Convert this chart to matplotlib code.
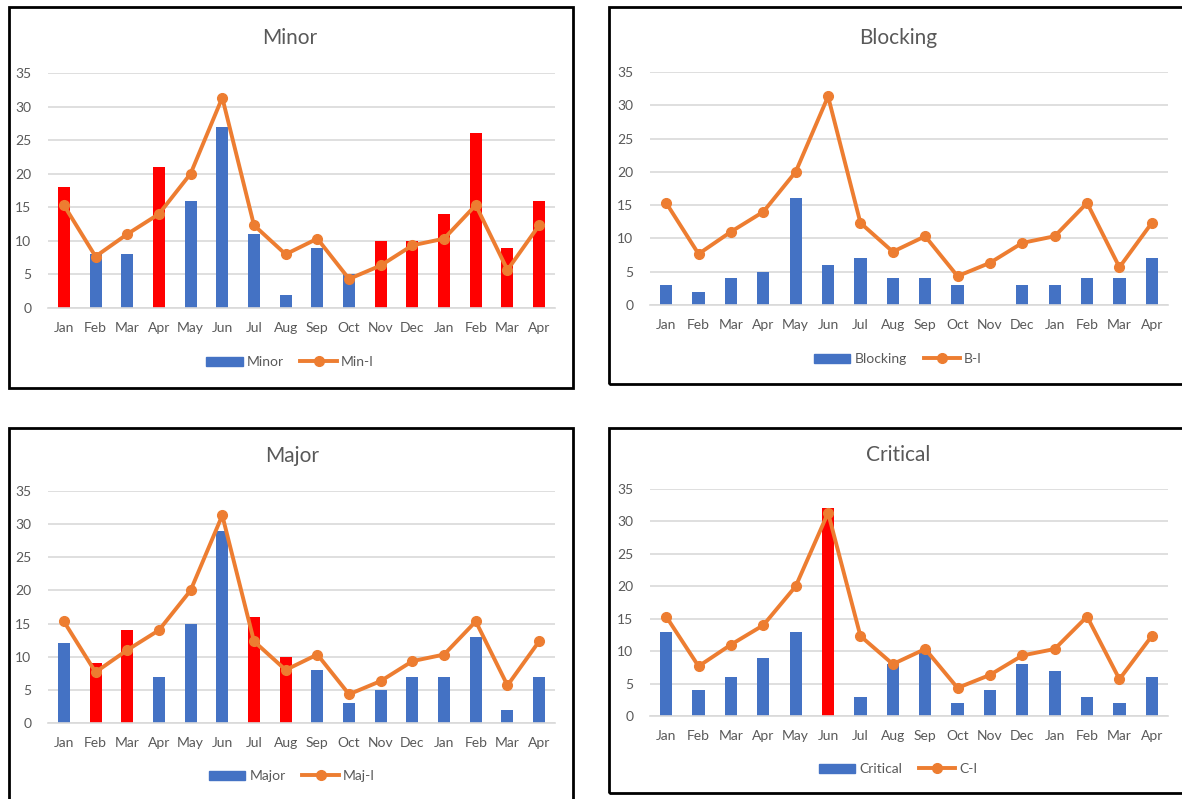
import matplotlib
matplotlib.use("Agg")
import matplotlib.pyplot as plt
from matplotlib.patches import Rectangle
from matplotlib.lines import Line2D

plt.rcParams['font.family'] = ['Lato', 'DejaVu Sans']

months = ['Jan', 'Feb', 'Mar', 'Apr', 'May', 'Jun', 'Jul', 'Aug',
          'Sep', 'Oct', 'Nov', 'Dec', 'Jan', 'Feb', 'Mar', 'Apr']

# index line shared by every panel
index_line = [15.33, 7.67, 11, 14, 20, 31.33, 12.33, 8,
              10.33, 4.33, 6.33, 9.33, 10.33, 15.33, 5.67, 12.33]

minor = [18, 8, 8, 21, 16, 27, 11, 2, 9, 5, 10, 10, 14, 26, 9, 16]
minor_flag = [1, 0, 0, 1, 0, 0, 0, 0, 0, 0, 1, 1, 1, 1, 1, 1]

blocking = [3, 2, 4, 5, 16, 6, 7, 4, 4, 3, 0, 3, 3, 4, 4, 7]
blocking_flag = [0] * 16

major = [12, 9, 14, 7, 15, 29, 16, 10, 8, 3, 5, 7, 7, 13, 2, 7]
major_flag = [0, 1, 1, 0, 0, 0, 1, 1, 0, 0, 0, 0, 0, 0, 0, 0]

critical = [13, 4, 6, 9, 13, 32, 3, 8, 10, 2, 4, 8, 7, 3, 2, 6]
critical_flag = [0, 0, 0, 0, 0, 1, 0, 0, 0, 0, 0, 0, 0, 0, 0, 0]

BLUE = '#4472C4'
ORANGE = '#ED7D31'
RED = '#FF0000'
GREY = '#595959'
GRID = '#D9D9D9'

W, H = 1182, 799
fig = plt.figure(figsize=(W / 100, H / 100), dpi=100)


def fx(px):
    return px / W


def fy(py):
    return 1 - py / H


def panel(box, plot, title, title_xy, legend_y, bars, flags, bar_name, line_name):
    # black frame around the chart
    x0, y0, x1, y1 = box
    fig.patches.append(Rectangle((fx(x0), fy(y1)), fx(x1 - x0), (y1 - y0) / H,
                                 transform=fig.transFigure, fill=False,
                                 edgecolor='black', linewidth=2, zorder=0))
    left, top, right, bottom = plot
    ax = fig.add_axes([fx(left), fy(bottom), fx(right - left), (bottom - top) / H])
    x = list(range(len(months)))
    colors = [RED if f else BLUE for f in flags]
    ax.bar(x, bars, width=0.38, color=colors, zorder=2)
    ax.plot(x, index_line, color=ORANGE, linewidth=2.8, marker='o',
            markersize=7, zorder=3)
    ax.set_xlim(-0.5, len(months) - 0.5)
    ax.set_ylim(0, 35)
    ax.set_yticks(range(0, 36, 5))
    ax.set_xticks(x)
    ax.set_xticklabels(months)
    ax.yaxis.grid(True, color=GRID, linewidth=1.2, zorder=0)
    ax.set_axisbelow(True)
    for s in ['top', 'right', 'left']:
        ax.spines[s].set_visible(False)
    ax.spines['bottom'].set_color(GRID)
    ax.spines['bottom'].set_linewidth(1.2)
    ax.tick_params(length=0, labelsize=10, colors=GREY)
    ax.tick_params(axis='x', pad=10)
    ax.tick_params(axis='y', pad=12)
    fig.text(fx(title_xy[0]), fy(title_xy[1]), title, ha='center', va='center',
             fontsize=15, color=GREY)
    handles = [Rectangle((0, 0), 1, 1, color=BLUE),
               Line2D([], [], color=ORANGE, linewidth=2.8, marker='o', markersize=7)]
    fig.legend(handles, [bar_name, line_name], loc='center',
               bbox_to_anchor=(fx(title_xy[0]), fy(legend_y)), ncol=2, frameon=False,
               fontsize=10, labelcolor=GREY, handlelength=2.6, handleheight=0.6,
               handletextpad=0.3, columnspacing=1.2)
    return ax


panel((9, 7, 573, 388), (48, 73, 555, 308), 'Minor', (290, 38), 362,
      minor, minor_flag, 'Minor', 'Min-I')
panel((609, 7, 1200, 384), (650, 72, 1168, 305), 'Blocking', (898, 38), 359,
      blocking, blocking_flag, 'Blocking', 'B-I')
panel((9, 428, 573, 820), (48, 491, 555, 723), 'Major', (292, 456), 776,
      major, major_flag, 'Major', 'Maj-I')
panel((609, 428, 1200, 793), (650, 489, 1168, 716), 'Critical', (898, 455), 769,
      critical, critical_flag, 'Critical', 'C-I')

fig.savefig('out.png', dpi=100)
